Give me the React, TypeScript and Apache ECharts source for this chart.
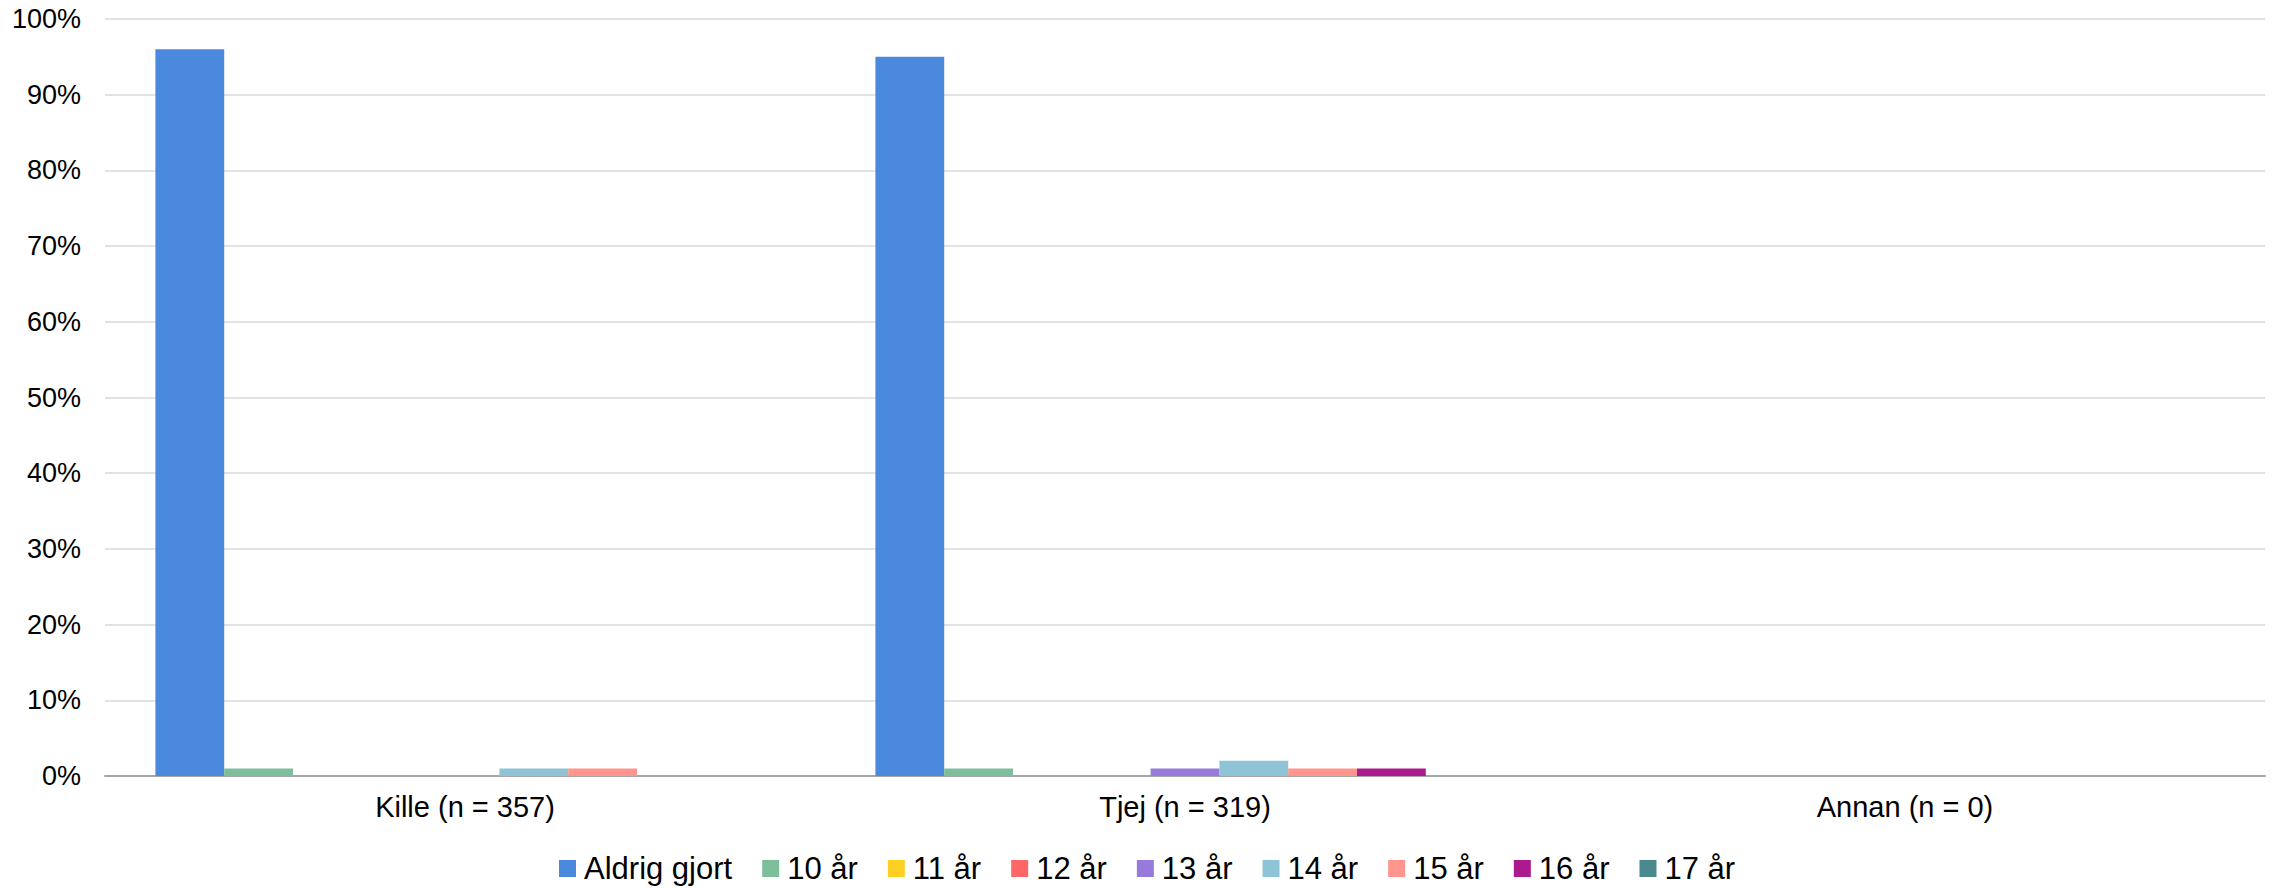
import React, { useEffect, useRef } from "react";
import * as echarts from "echarts";

const categories = ["Kille (n = 357)", "Tjej (n = 319)", "Annan (n = 0)"];
const seriesNames = ["Aldrig gjort", "10 år", "11 år", "12 år", "13 år", "14 år", "15 år", "16 år", "17 år"];
const seriesColors = ["#4a89dc", "#7dbe9b", "#fdd023", "#ff6666", "#967adc", "#8fc4d6", "#ff958c", "#ab1b8e", "#4a8a8f"];
// values in percent, per series: [Kille, Tjej, Annan]
const aldrigGjort = [96, 95, 0];
const ar10 = [1, 1, 0];
const ar11 = [0, 0, 0];
const ar12 = [0, 0, 0];
const ar13 = [0, 1, 0];
const ar14 = [1, 2, 0];
const ar15 = [1, 1, 0];
const ar16 = [0, 1, 0];
const ar17 = [0, 0, 0];
const seriesValues = [aldrigGjort, ar10, ar11, ar12, ar13, ar14, ar15, ar16, ar17];

export default function App() {
  const ref = useRef<HTMLDivElement>(null);
  useEffect(() => {
    document.body.style.margin = "0";
    if (!ref.current) return;
    const chart = echarts.init(ref.current, null, { renderer: "svg" });
    const font = "'Liberation Sans', Arial, sans-serif";
    chart.setOption({
      animation: false,
      textStyle: { fontFamily: font },
      grid: { left: 105, right: 12, top: 19, bottom: 113, containLabel: false },
      legend: {
        top: 848,
        left: 554,
        itemWidth: 17,
        itemHeight: 17,
        itemGap: 30,
        icon: "rect",
        textStyle: { fontSize: 31, color: "#000", fontFamily: font, padding: [0, 0, 0, 3] },
        data: seriesNames,
      },
      xAxis: {
        type: "category",
        data: categories,
        axisLine: { lineStyle: { color: "#a6a6a6", width: 2 } },
        axisTick: { show: false },
        axisLabel: { fontSize: 29, color: "#000", margin: 16, fontFamily: font },
      },
      yAxis: {
        type: "value",
        min: 0,
        max: 100,
        interval: 10,
        axisLine: { show: false },
        axisTick: { show: false },
        splitLine: { lineStyle: { color: "#d9d9d9", width: 1.5 } },
        axisLabel: { fontSize: 27, color: "#000", margin: 24, formatter: "{value}%", fontFamily: font },
      },
      series: seriesNames.map((name, i) => ({
        name,
        type: "bar",
        data: seriesValues[i],
        barGap: "0%",
        barCategoryGap: "14%",
        itemStyle: { color: seriesColors[i] },
      })),
    });
    return () => chart.dispose();
  }, []);
  return <div ref={ref} style={{ width: 2277, height: 889 }} />;
}
